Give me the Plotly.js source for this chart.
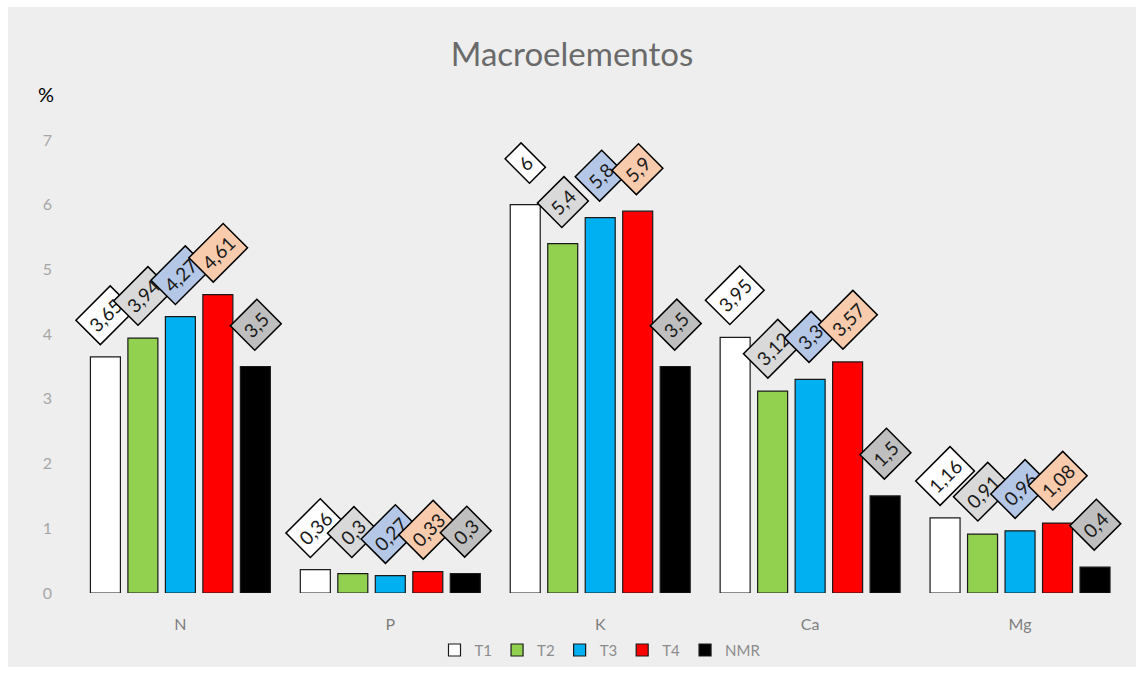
<!DOCTYPE html>
<html>
<head>
<meta charset="utf-8">
<script src="https://cdn.plot.ly/plotly-3.0.1.min.js"></script>
<style>
html,body{margin:0;padding:0;background:#ffffff;}
#chart{position:absolute;left:8px;top:7px;width:1128px;height:660px;}
</style>
</head>
<body>
<div id="chart"></div>
<script>
const categories = ["N", "P", "K", "Ca", "Mg"];
const seriesNames = ["T1", "T2", "T3", "T4", "NMR"];
const T1 = [3.65, 0.36, 6, 3.95, 1.16];
const T2 = [3.94, 0.3, 5.4, 3.12, 0.91];
const T3 = [4.27, 0.27, 5.8, 3.3, 0.96];
const T4 = [4.61, 0.33, 5.9, 3.57, 1.08];
const NMR = [3.5, 0.3, 3.5, 1.5, 0.4];
const seriesValues = [T1, T2, T3, T4, NMR];
const barColors = ["#ffffff", "#92d050", "#00b0f0", "#ff0000", "#000000"];
const labelBg = ["#ffffff", "#d9d9d9", "#b4c7e7", "#f8cbad", "#bfbfbf"];
const yTicks = [0, 1, 2, 3, 4, 5, 6, 7];

const bargap = 0.107;
const FONT = "Lato, 'Open Sans', sans-serif";

const traces = seriesNames.map((name, j) => ({
  type: "bar",
  name: name,
  x: categories,
  y: seriesValues[j],
  marker: {color: barColors[j], line: {color: "#1a1a1a", width: 1.2}},
  hoverinfo: "x+y+name"
}));

const annotations = [];
const n = seriesNames.length;
seriesValues.forEach((vals, j) => {
  vals.forEach((v, i) => {
    annotations.push({
      xref: "x", yref: "y",
      x: i + (j - (n - 1) / 2) * (1 - bargap) / n,
      y: v,
      yshift: 42,
      text: String(v).replace(".", ","),
      showarrow: false,
      textangle: -45,
      xanchor: "center", yanchor: "middle",
      bgcolor: labelBg[j],
      bordercolor: "#000000",
      borderwidth: 1.5,
      borderpad: 5,
      font: {family: FONT, size: 19, color: "#1a1a1a"}
    });
  });
});
annotations.push({
  xref: "paper", yref: "paper",
  x: -0.018, y: 1.07,
  xanchor: "right", yanchor: "bottom",
  text: "%",
  showarrow: false,
  font: {family: FONT, size: 20, color: "#000000"}
});

const layout = {
  paper_bgcolor: "#eeeeee",
  plot_bgcolor: "rgba(0,0,0,0)",
  margin: {l: 67, r: 11, t: 133, b: 74, autoexpand: false},
  title: {text: "Macroelementos", font: {family: FONT, size: 33, color: "#6a6a6a"}, x: 0.5, xanchor: "center", y: 0.945, yanchor: "top"},
  barmode: "group",
  bargap: bargap,
  bargroupgap: 0.2,
  showlegend: true,
  legend: {
    orientation: "h", x: 0.5, xanchor: "center", y: -0.09, yanchor: "top",
    font: {family: FONT, size: 15, color: "#8c8c8c"},
    itemwidth: 30, traceorder: "normal"
  },
  xaxis: {
    type: "category",
    showgrid: false, zeroline: false, showline: false, ticks: "",
    tickfont: {family: FONT, size: 16, color: "#7f7f7f"},
    ticklabelstandoff: 20
  },
  yaxis: {
    range: [0, 7],
    tickvals: yTicks,
    ticktext: yTicks.map(String),
    showgrid: false, zeroline: false, showline: false, ticks: "",
    tickfont: {family: FONT, size: 16, color: "#a6a6a6"},
    ticklabelstandoff: 22
  },
  annotations: annotations
};

Plotly.newPlot("chart", traces, layout, {displayModeBar: false, responsive: false});
</script>
</body>
</html>
